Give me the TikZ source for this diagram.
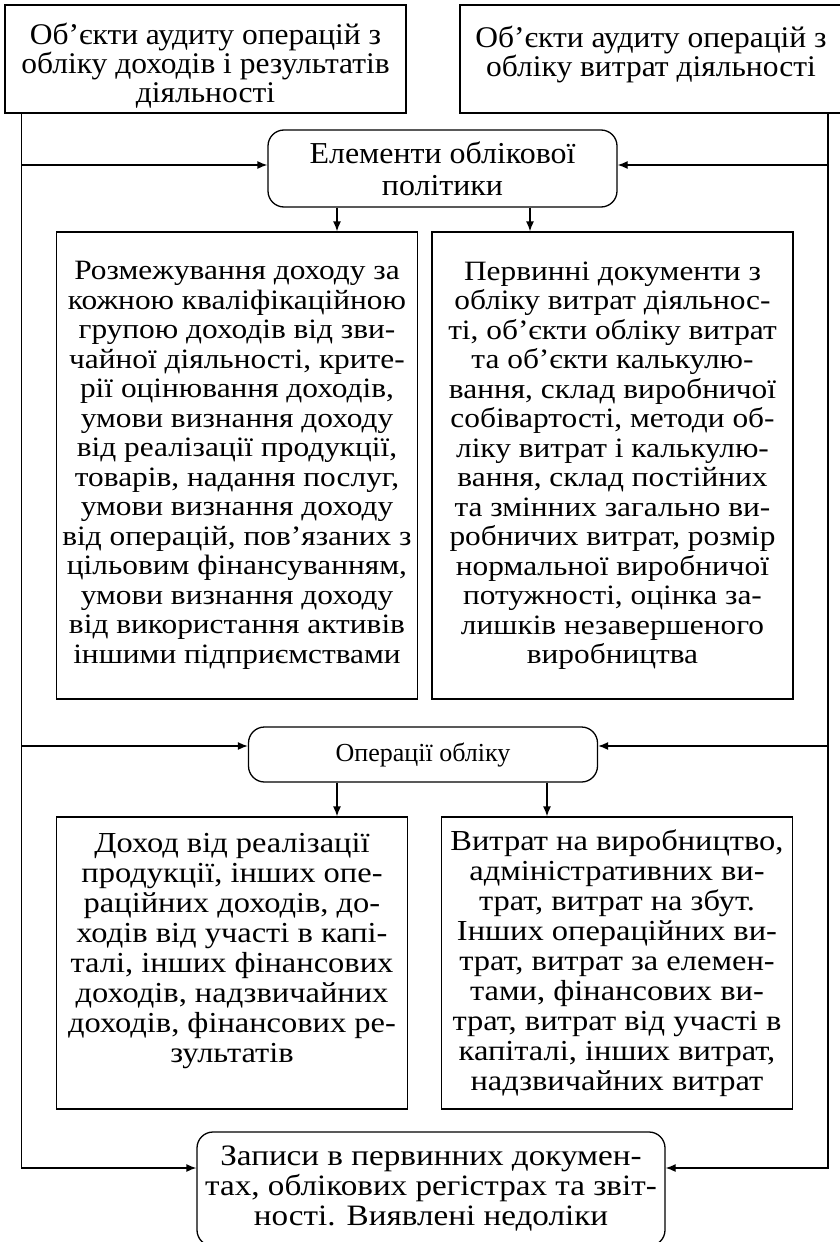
\documentclass[tikz,border=0pt]{standalone}
\usepackage{fontspec}
\setmainfont{Liberation Serif}
\newfontfamily\widefont[FakeStretch=1.12]{Liberation Serif}
\newfontfamily\semifont[FakeStretch=1.05]{Liberation Serif}
\usetikzlibrary{arrows.meta, positioning}

\begin{document}
\begin{tikzpicture}[x=0.5pt, y=-0.5pt, >={Latex[length=5pt, width=4pt]}, line width=0.65pt,
  box/.style={draw, rectangle, align=center, inner sep=0pt},
  rbox/.style={draw, rectangle, rounded corners=8pt, align=center, inner sep=0pt},
  headtext/.style={font=\semifont\fontsize{15}{14.5}\selectfont},
  midtext/.style={font=\widefont\fontsize{14}{14.75}\selectfont},
  lowtext/.style={font=\widefont\fontsize{14.5}{15}\selectfont}]
\useasboundingbox (0,0) rectangle (840,1242);

\node[box, headtext, minimum width=200.5pt, minimum height=54pt] (objinc) at (205.5,59) {\rule{0pt}{17pt}Об’єкти аудиту операцій з\\обліку доходів і результатів\\діяльності};
\node[box, headtext, minimum width=191pt, minimum height=54pt] (objexp) at (651,59) {\rule{0pt}{17pt}Об’єкти аудиту операцій з\\обліку витрат діяльності\\\mbox{}};
\node[rbox, font=\semifont\fontsize{15.2}{16}\selectfont, minimum width=174.5pt, minimum height=38.5pt] (elem) at (442.5,168.5) {Елементи облікової\\політики};
\node[box, midtext, minimum width=180.75pt, minimum height=233.5pt] (polinc) at (237,465.5) {Розмежування доходу за\\кожною кваліфікаційною\\групою доходів від зви-\\чайної діяльності, крите-\\рії оцінювання доходів,\\умови визнання доходу\\від реалізації продукції,\\товарів, надання послуг,\\умови визнання доходу\\від операцій, пов’язаних з\\цільовим фінансуванням,\\умови визнання доходу\\від використання активів\\іншими підприємствами};
\node[box, midtext, minimum width=180.5pt, minimum height=233.5pt] (polexp) at (612.5,465.5) {Первинні документи з\\обліку витрат діяльнос-\\ті, об’єкти обліку витрат\\та об’єкти калькулю-\\вання, склад виробничої\\собівартості, методи об-\\ліку витрат і калькулю-\\вання, склад постійних\\та змінних загально ви-\\робничих витрат, розмір\\нормальної виробничої\\потужності, оцінка за-\\лишків незавершеного\\виробництва};
\node[rbox, font=\fontsize{13}{15}\selectfont, minimum width=174.5pt, minimum height=27.5pt] (oper) at (423,754.5) {Операції обліку};
\node[box, lowtext, minimum width=175.5pt, minimum height=146pt] (opinc) at (232,963) {Доход від реалізації\\продукції, інших опе-\\раційних доходів, до-\\ходів від участі в капі-\\талі, інших фінансових\\доходів, надзвичайних\\доходів, фінансових ре-\\зультатів\\\mbox{}};
\node[box, lowtext, minimum width=175.75pt, minimum height=146pt] (opexp) at (617,963) {Витрат на виробництво,\\адміністративних ви-\\трат, витрат на збут.\\Інших операційних ви-\\трат, витрат за елемен-\\тами, фінансових ви-\\трат, витрат від участі в\\капіталі, інших витрат,\\надзвичайних витрат};
\node[rbox, font=\widefont\fontsize{14.8}{15}\selectfont, minimum width=234pt, minimum height=57pt] (rec) at (431,1189) {Записи в первинних докумен-\\тах, облікових регістрах та звіт-\\ності. Виявлені недоліки};

\coordinate (lx) at (21.5,0);
\coordinate (rx) at (828,0);
\coordinate (e1) at (337,0);
\coordinate (e2) at (530,0);
\coordinate (o1) at (337,0);
\coordinate (o2) at (547,0);

\draw[->] (objinc.south -| lx) |- ([yshift=10.5pt] rec.west);
\draw[->] (objexp.south -| rx) |- ([yshift=10.5pt] rec.east);
\draw[->] ([yshift=1.75pt] elem.west -| lx) -- ([yshift=1.75pt] elem.west);
\draw[->] ([yshift=1.75pt] elem.east -| rx) -- ([yshift=1.75pt] elem.east);
\draw[->] ([yshift=4.25pt] oper.west -| lx) -- ([yshift=4.25pt] oper.west);
\draw[->] ([yshift=4.25pt] oper.east -| rx) -- ([yshift=4.25pt] oper.east);

\draw[->] (elem.south -| e1) -- (polinc.north -| e1);
\draw[->] (elem.south -| e2) -- (polexp.north -| e2);
\draw[->] (oper.south -| o1) -- (opinc.north -| o1);
\draw[->] (oper.south -| o2) -- (opexp.north -| o2);
\end{tikzpicture}
\end{document}
